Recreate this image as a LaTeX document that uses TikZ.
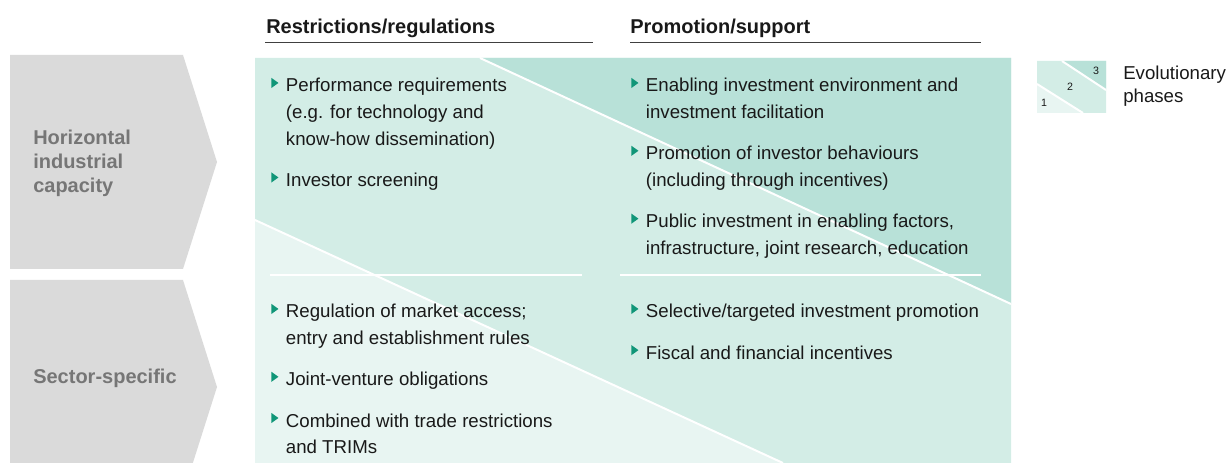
\documentclass[tikz,border=0pt]{standalone}
\usepackage{fontspec}
\setmainfont{Liberation Sans}
\usetikzlibrary{positioning}

\definecolor{phaseone}{RGB}{232,245,242}
\definecolor{phasetwo}{RGB}{211,237,230}
\definecolor{phasethree}{RGB}{184,225,216}
\definecolor{chevgray}{RGB}{218,218,218}
\definecolor{labelgray}{RGB}{118,118,118}
\definecolor{bulletgreen}{RGB}{16,150,120}
\definecolor{inkblack}{RGB}{25,25,25}

% bullet item: triangle, then the text in a hanging block
\newcommand{\bul}[1]{\makebox[11pt][l]{\tikz[baseline=0pt]\fill[bulletgreen] (0pt,2.9pt) -- (0pt,10.6pt) -- (5.4pt,6.75pt) -- cycle;}\parbox[t]{290pt}{\raggedright\strut#1\strut}}

\begin{document}
\begin{tikzpicture}[
  x=0.75pt, y=-0.75pt,
  item/.style={
    anchor=north west, inner sep=0pt,
    font=\fontsize{14pt}{20pt}\selectfont, text=inkblack
  },
  head/.style={anchor=base west, inner sep=0pt, font=\fontsize{15pt}{18pt}\selectfont\bfseries, text=inkblack},
  chevlabel/.style={inner sep=0pt, align=left, text=labelgray, font=\fontsize{15pt}{18pt}\selectfont\bfseries},
  rule/.style={draw=black!75, line width=1pt},
  gap/.style={draw=white, line width=1.5pt},
  digit/.style={inner sep=0pt, font=\fontsize{8pt}{9pt}\selectfont, text=inkblack},
]
\useasboundingbox (0,0) rectangle (1232,463);
\clip (0,0) rectangle (1232,463);

% row chevrons
\fill[chevgray] (10,55) -- (183,55) -- (217,162) -- (183,269) -- (10,269) -- cycle;
\fill[chevgray] (10,280) -- (183,280) -- (217,387) -- (183,494) -- (10,494) -- cycle;
\node[chevlabel, anchor=west] (horiz) at (33,163) {Horizontal\\industrial\\capacity};
\node[chevlabel, anchor=base west] (sector) at (33,383) {Sector-specific};

% phase bands
\fill[phaseone] (255,58) rectangle (1011,463);
\fill[phasetwo] (255,58) -- (1011,58) -- (1011,463) -- (783,463) -- (255,220) -- cycle;
\fill[phasethree] (480,58) -- (1011,58) -- (1011,304) -- cycle;
\draw[gap] (255,220) -- (783,463);
\draw[gap] (480,58) -- (1011,304);
\draw[gap] (270,275) -- (582,275);
\draw[gap] (620,275) -- (981,275);

% column headers
\node[head] (hdrrestrict) at (266,33.3) {Restrictions/regulations};
\node[head] (hdrpromote) at (630,33.3) {Promotion/support};
\draw[rule] (265,42.7) -- (593,42.7);
\draw[rule] (630,42.7) -- (981,42.7);

% horizontal industrial capacity
\node[item] (rperf) at (271,73) {\bul{Performance requirements\\(e.g. for technology and\\know-how dissemination)}};
\node[item, below=10.5pt of rperf] (rscreen) {\bul{Investor screening}};

\node[item] (penable) at (631,73) {\bul{Enabling investment environment and\\investment facilitation}};
\node[item, below=10.5pt of penable] (pbehav) {\bul{Promotion of investor behaviours\\(including through incentives)}};
\node[item, below=10.5pt of pbehav] (ppublic) {\bul{Public investment in enabling factors,\\infrastructure, joint research, education}};

% sector-specific
\node[item] (raccess) at (271,299) {\bul{Regulation of market access;\\entry and establishment rules}};
\node[item, below=10.5pt of raccess] (rjoint) {\bul{Joint-venture obligations}};
\node[item, below=10.5pt of rjoint] (rtrade) {\bul{Combined with trade restrictions\\and TRIMs}};

\node[item] (pselect) at (631,299) {\bul{Selective/targeted investment promotion}};
\node[item, below=10.5pt of pselect] (pfiscal) {\bul{Fiscal and financial incentives}};

% legend
\fill[phaseone] (1037,61) rectangle (1106,113);
\fill[phasetwo] (1037,61) -- (1106,61) -- (1106,113) -- (1083,113) -- (1037,84) -- cycle;
\fill[phasethree] (1062,61) -- (1106,61) -- (1106,90) -- cycle;
\draw[gap] (1062,61) -- (1106,90);
\draw[gap] (1037,84) -- (1083,113);
\node[digit] (phthree) at (1096,71) {3};
\node[digit] (phtwo) at (1070,87) {2};
\node[digit] (phone) at (1044,103) {1};
\node[inner sep=0pt, anchor=north west, align=left, font=\fontsize{14pt}{17pt}\selectfont, text=inkblack] (legend) at (1123,66) {Evolutionary\\phases};

\end{tikzpicture}
\end{document}
